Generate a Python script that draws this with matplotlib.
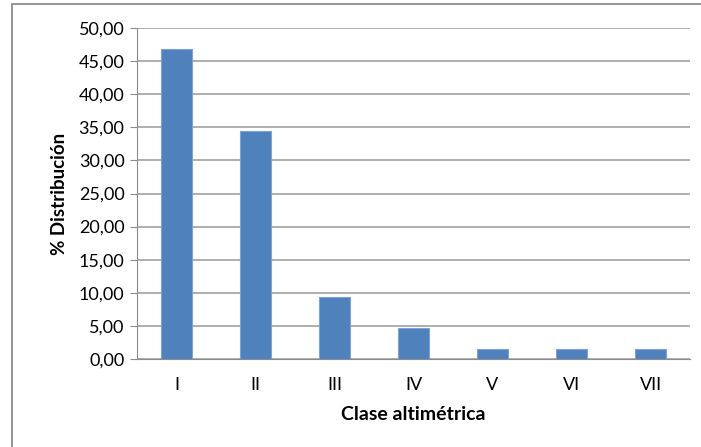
import numpy as np
import matplotlib.pyplot as plt
from matplotlib.patches import Rectangle

plt.rcParams['font.family'] = ['Lato', 'DejaVu Sans']

clases = ["I", "II", "III", "IV", "V", "VI", "VII"]
distribucion = [46.88, 34.38, 9.38, 4.69, 1.56, 1.56, 1.56]
yticks = [0, 5, 10, 15, 20, 25, 30, 35, 40, 45, 50]

fig = plt.figure(figsize=(7.01, 4.47), dpi=100)
ax = fig.add_axes([137/701, 1 - 359/447, 553/701, 331/447])

# outer chart border (cropped on right/bottom)
fig.patches.append(Rectangle((12/701, -0.05), 1.2, 1 - 4/447 + 0.05,
                             transform=fig.transFigure, fill=False,
                             edgecolor="#8c8c8c", linewidth=1.3))

x = np.arange(len(clases))
ax.bar(x, distribucion, width=0.4, color="#4F81BD", edgecolor="#7FA3D3",
       linewidth=0.8, zorder=3)

ax.set_xlim(-0.5, len(clases) - 0.5)
ax.set_ylim(0, 50)
ax.set_yticks(yticks)
ax.set_yticklabels([f"{v:.2f}".replace(".", ",") for v in yticks], fontsize=13)
ax.set_xticks(x)
ax.set_xticklabels(clases, fontsize=13)
ax.tick_params(axis="x", length=0, pad=13)
ax.tick_params(axis="y", length=5, color="#8c8c8c", pad=4)

ax.grid(axis="y", color="#999999", linewidth=1.1, zorder=0)
for s in ["top", "right"]:
    ax.spines[s].set_visible(False)
ax.spines["left"].set_color("#8c8c8c")
ax.spines["bottom"].set_color("#8c8c8c")

ax.set_xlabel("Clase altimétrica", fontsize=14, fontweight="bold", labelpad=9)
ax.set_ylabel("% Distribución", fontsize=13.5, fontweight="bold", labelpad=8)

fig.savefig("out.png", dpi=100)
